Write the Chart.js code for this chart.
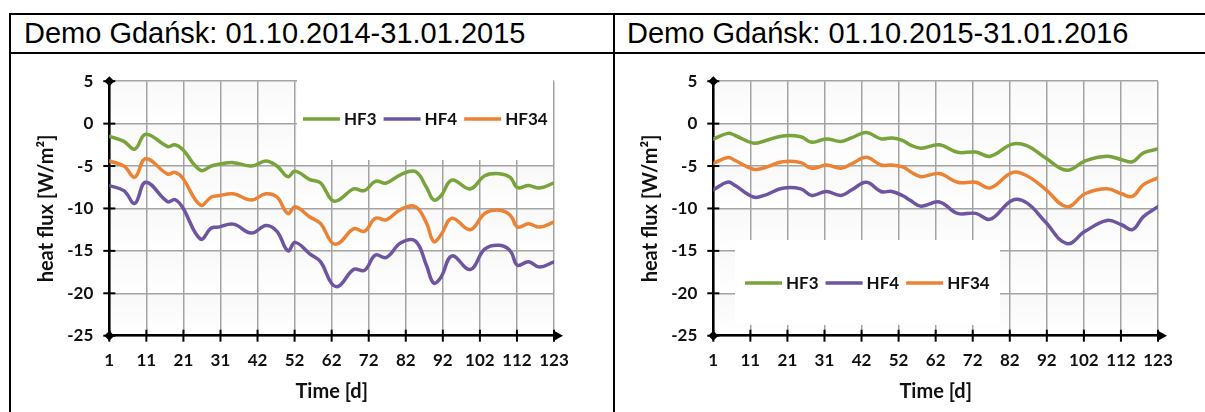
<!DOCTYPE html>
<html>
<head>
<meta charset="utf-8">
<script src="https://cdn.jsdelivr.net/npm/chart.js@4/dist/chart.umd.min.js"></script>
<style>
  body { margin: 0; background: #fff; width: 1205px; height: 412px; overflow: hidden; position: relative; }
  .ln { position: absolute; background: #000; }
  .hd { position: absolute; top: 14px; height: 38px; line-height: 38px; font-family: "Liberation Sans", Arial, sans-serif; font-size: 29px; color: #000; white-space: nowrap; }
  canvas { position: absolute; top: 55px; }
</style>
</head>
<body>
<div class="ln" style="left:9px;top:13px;width:1196px;height:2px"></div>
<div class="ln" style="left:9px;top:13px;width:2px;height:399px"></div>
<div class="ln" style="left:9px;top:52px;width:1196px;height:2px"></div>
<div class="ln" style="left:613px;top:13px;width:2px;height:399px"></div>
<div class="hd" style="left:24px">Demo Gdańsk: 01.10.2014-31.01.2015</div>
<div class="hd" style="left:627px">Demo Gdańsk: 01.10.2015-31.01.2016</div>
<canvas id="c2014" width="600" height="357" style="left:12px"></canvas>
<canvas id="c2015" width="589" height="357" style="left:616px"></canvas>
<script>
// tick labels on the time axis (12 equal steps from day 1 to day 123)
const xTickLabels = ['1', '11', '21', '31', '42', '52', '62', '72', '82', '92', '102', '112', '123'];
const seriesNames = ['HF3', 'HF4', 'HF34'];
const seriesColors = ['#78a43b', '#6e55a0', '#ec8233'];

// season 2014/2015
const days2014 = [1, 5, 8, 11, 17, 19, 21, 26, 29, 31, 35, 40, 44, 47, 50, 52, 56, 59, 62, 64, 68, 71, 74, 77, 81, 85, 88, 90, 92, 95, 100, 104, 108, 111, 113, 116, 119, 123];
const hf3_2014 = [-1.5, -2.1, -3.0, -1.25, -2.7, -2.5, -3.0, -5.5, -5.0, -4.8, -4.6, -5.0, -4.4, -5.0, -6.25, -5.6, -6.6, -7.0, -9.0, -9.0, -7.7, -7.9, -6.8, -7.0, -6.0, -5.65, -7.5, -9.0, -8.5, -6.65, -7.7, -6.15, -5.9, -6.35, -7.55, -7.3, -7.6, -7.0];
const hf4_2014 = [-7.3, -7.9, -9.4, -6.9, -9.2, -8.95, -9.8, -13.6, -12.3, -12.2, -11.85, -12.9, -12.0, -12.7, -15.0, -14.0, -15.35, -16.3, -18.85, -19.15, -17.2, -17.3, -15.5, -15.77, -14.04, -13.85, -16.7, -18.8, -18.1, -15.6, -17.2, -14.8, -14.35, -15.0, -16.7, -16.27, -16.9, -16.3];
const hf34_2014 = [-4.4, -5.0, -6.3, -4.15, -5.95, -5.75, -6.35, -9.6, -8.65, -8.5, -8.27, -9.0, -8.27, -8.65, -10.6, -9.8, -11.0, -11.8, -14.0, -14.1, -12.4, -12.7, -11.15, -11.35, -10.1, -9.8, -11.7, -13.9, -13.1, -11.15, -12.5, -10.6, -10.2, -10.8, -12.2, -11.8, -12.2, -11.6];

// season 2015/2016
const days2015 = [1, 5, 7, 12, 15, 20, 25, 28, 32, 36, 39, 43, 47, 50, 53, 55, 58, 63, 68, 73, 77, 83, 87, 92, 98, 103, 109, 113, 116, 119, 123];
const hf3_2015 = [-1.8, -1.15, -1.4, -2.3, -2.05, -1.45, -1.55, -2.2, -1.8, -2.1, -1.65, -1.05, -1.8, -1.7, -2.0, -2.5, -2.9, -2.5, -3.38, -3.35, -3.85, -2.42, -2.6, -4.0, -5.5, -4.4, -3.85, -4.25, -4.5, -3.45, -3.0];
const hf4_2015 = [-7.8, -6.9, -7.3, -8.65, -8.46, -7.62, -7.69, -8.46, -8.0, -8.46, -7.8, -6.92, -8.0, -8.0, -8.5, -9.04, -9.73, -9.23, -10.58, -10.58, -11.27, -9.04, -9.34, -11.54, -14.15, -12.7, -11.42, -11.92, -12.5, -10.96, -9.8];
const hf34_2015 = [-4.7, -4.0, -4.35, -5.38, -5.2, -4.5, -4.6, -5.27, -4.88, -5.27, -4.73, -3.96, -4.88, -4.88, -5.1, -5.65, -6.25, -5.88, -6.92, -6.92, -7.58, -5.77, -6.15, -7.69, -9.8, -8.27, -7.69, -8.27, -8.58, -7.2, -6.4];

const boldFont = (size) => ({ family: 'Lato', weight: 'bold', size: size });

function points(days, vals) {
  return days.map((d, i) => ({ x: d, y: vals[i] }));
}

// faint band shading, black axis ticks, diamonds and arrow, plus the in-plot legend
const decor = {
  id: 'decor',
  beforeDraw(chart) {
    const ctx = chart.ctx;
    const ys = chart.scales.y;
    const a = chart.chartArea;
    ctx.save();
    for (let v = ys.max; v > ys.min; v -= 5) {
      const t = ys.getPixelForValue(v), bt = ys.getPixelForValue(v - 5);
      const g = ctx.createLinearGradient(0, t, 0, bt);
      g.addColorStop(0, '#f8f8f8');
      g.addColorStop(1, '#ffffff');
      ctx.fillStyle = g;
      ctx.fillRect(a.left, t, a.right - a.left, bt - t);
    }
    ctx.restore();
  },
  beforeDatasetsDraw(chart, args, opts) {
    const ctx = chart.ctx;
    const b = opts.box;
    ctx.save();
    ctx.fillStyle = '#fff';
    ctx.fillRect(b[0], b[1], b[2], b[3]);
    ctx.font = 'bold 17px Lato';
    ctx.textBaseline = 'middle';
    let x = opts.x;
    chart.data.datasets.forEach((ds) => {
      ctx.strokeStyle = ds.borderColor;
      ctx.lineWidth = 3.5;
      ctx.beginPath();
      ctx.moveTo(x, opts.y);
      ctx.lineTo(x + 37, opts.y);
      ctx.stroke();
      x += 41;
      ctx.fillStyle = '#111';
      ctx.fillText(ds.label, x, opts.y + 1);
      x += ctx.measureText(ds.label).width + 7;
    });
    ctx.restore();
  },
  afterDraw(chart) {
    const ctx = chart.ctx;
    const xs = chart.scales.x, ys = chart.scales.y;
    const a = chart.chartArea;
    ctx.save();
    ctx.strokeStyle = '#000';
    ctx.fillStyle = '#000';
    ctx.lineWidth = 2;
    ys.ticks.forEach((t) => {
      const py = ys.getPixelForValue(t.value);
      ctx.beginPath();
      ctx.moveTo(a.left - 6, py);
      ctx.lineTo(a.left + 6, py);
      ctx.stroke();
    });
    xs.ticks.forEach((t) => {
      const px = xs.getPixelForValue(t.value);
      ctx.beginPath();
      ctx.moveTo(px, a.bottom - 6);
      ctx.lineTo(px, a.bottom + 6);
      ctx.stroke();
    });
    [a.top, a.bottom].forEach((py) => {
      ctx.beginPath();
      ctx.moveTo(a.left, py - 5);
      ctx.lineTo(a.left + 5, py);
      ctx.lineTo(a.left, py + 5);
      ctx.lineTo(a.left - 5, py);
      ctx.closePath();
      ctx.fill();
    });
    ctx.beginPath();
    ctx.moveTo(a.right, a.bottom - 5);
    ctx.lineTo(a.right + 9, a.bottom);
    ctx.lineTo(a.right, a.bottom + 5);
    ctx.closePath();
    ctx.fill();
    ctx.restore();
  }
};

function makeChart(id, days, s3, s4, s34, padRight, legendOpts) {
  const series = [s3, s4, s34];
  return new Chart(document.getElementById(id), {
    type: 'line',
    data: {
      datasets: series.map((s, i) => ({
        label: seriesNames[i],
        data: points(days, s),
        borderColor: seriesColors[i],
        backgroundColor: seriesColors[i]
      }))
    },
    options: {
      responsive: false,
      animation: false,
      layout: { padding: { top: 20, right: padRight, bottom: 0, left: 0 } },
      elements: {
        line: { borderWidth: 3.5, tension: 0.4, borderCapStyle: 'round' },
        point: { radius: 0 }
      },
      plugins: {
        legend: { display: false },
        tooltip: { enabled: false },
        decor: legendOpts
      },
      scales: {
        x: {
          type: 'linear',
          min: 1,
          max: 123,
          afterBuildTicks: (s) => {
            s.ticks = xTickLabels.map((_, i) => ({ value: 1 + i * 122 / (xTickLabels.length - 1) }));
          },
          afterFit: (s) => { s.height = 76.3; },
          grid: { color: '#a3a3a3', lineWidth: 1.5, drawTicks: false },
          border: { color: '#000', width: 2.5 },
          ticks: {
            padding: 15,
            color: '#111',
            font: boldFont(17),
            maxRotation: 0,
            autoSkip: false,
            callback: (v, i) => xTickLabels[i]
          },
          title: { display: true, text: 'Time [d]', color: '#111', font: boldFont(20), padding: { top: 0, bottom: 8 } }
        },
        y: {
          min: -25,
          max: 5,
          afterFit: (s) => { s.width = 97.3; },
          grid: { color: '#a3a3a3', lineWidth: 1.5, drawTicks: false },
          border: { color: '#000', width: 2.5 },
          ticks: { stepSize: 5, padding: 16, color: '#111', font: boldFont(17) },
          title: { display: true, text: 'heat flux [W/m²]', color: '#111', font: boldFont(20), padding: { top: 23, bottom: 0 } }
        }
      }
    },
    plugins: [decor]
  });
}

makeChart('c2014', days2014, hf3_2014, hf4_2014, hf34_2014, 58,
  { box: [285, 25, 256, 80], x: 291, y: 64 });
makeChart('c2015', days2015, hf3_2015, hf4_2015, hf34_2015, 47,
  { box: [119, 185, 265, 85], x: 129, y: 228 });
</script>
</body>
</html>
